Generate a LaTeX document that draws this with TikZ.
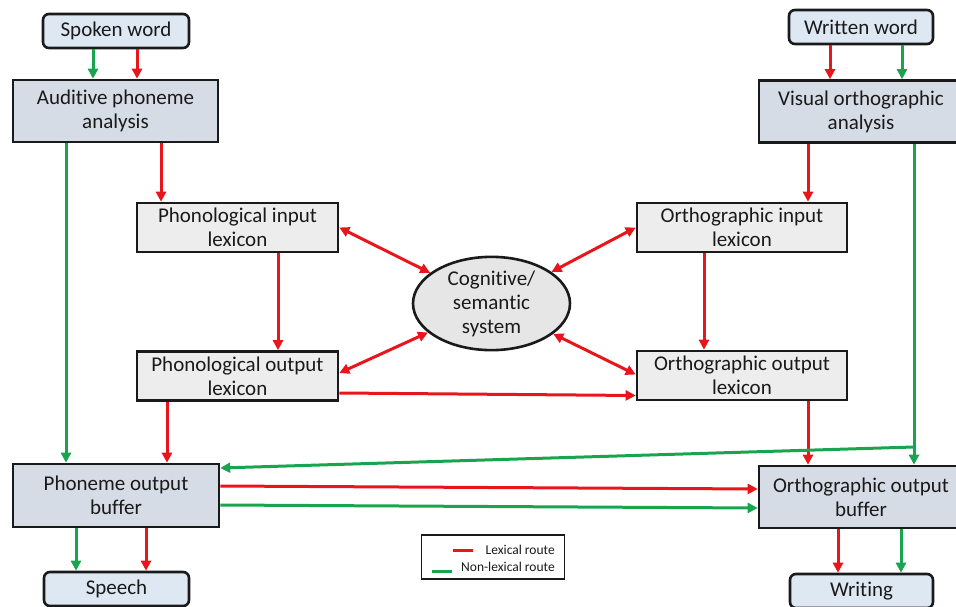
\documentclass[tikz,border=0pt]{standalone}
\usepackage{fontspec}
\setmainfont{Carlito}[Ligatures=NoCommon]
\usetikzlibrary{arrows.meta,shapes.geometric}

\definecolor{lexred}{HTML}{E8161C}
\definecolor{nlgreen}{HTML}{19A450}
\definecolor{iofill}{HTML}{DEE8F3}
\definecolor{stagefill}{HTML}{D6DCE5}
\definecolor{lexfill}{HTML}{EDEDED}
\definecolor{semfill}{HTML}{E6E6E6}
\definecolor{ink}{HTML}{1A1A1A}

\tikzset{
  >={Triangle[length=10pt,width=10pt]},
  box/.style={draw=ink, line width=2.6pt, inner sep=0pt, align=center,
              text=ink, font=\fontsize{21}{24}\selectfont},
  iobox/.style={box, rounded corners=6pt, fill=iofill},
  stagebox/.style={box, fill=stagefill},
  lexbox/.style={box, fill=lexfill},
  sembox/.style={box, ellipse, fill=semfill},
  lexarrow/.style={draw=lexred, line width=3pt, ->},
  nlarrow/.style={draw=nlgreen, line width=3pt, ->},
  lexline/.style={draw=lexred, line width=3pt},
  nlline/.style={draw=nlgreen, line width=3pt},
  biarrow/.style={draw=lexred, line width=3pt, <->},
  legendtext/.style={inner sep=0pt, anchor=east, text=ink,
                     font=\fontsize{13.5}{15}\selectfont},
}

\begin{document}
\begin{tikzpicture}[x=1pt, y=-1pt]
  \useasboundingbox (0,0) rectangle (956,607);

  % input and output words
  \node[iobox, minimum width=146pt, minimum height=34pt] (spoken)  at (116,31)    {Spoken word};
  \node[iobox, minimum width=144pt, minimum height=34pt] (written) at (861,27)    {Written word};
  \node[iobox, minimum width=145pt, minimum height=34pt] (speech)  at (116.5,589) {Speech};
  \node[iobox, minimum width=143pt, minimum height=34pt] (writing) at (861.5,591) {Writing};

  % analysis and buffer stages
  \node[stagebox, minimum width=205pt, minimum height=62pt] (aud)  at (115.5,111) {Auditive phoneme\\analysis};
  \node[stagebox, minimum width=204pt, minimum height=62pt] (vis)  at (861,111.5) {Visual orthographic\\analysis};
  \node[stagebox, minimum width=206pt, minimum height=63pt] (pbuf) at (116,495.5) {Phoneme output\\buffer};
  \node[stagebox, minimum width=204pt, minimum height=62pt] (obuf) at (861,497)   {Orthographic output\\buffer};

  % lexicons
  \node[lexbox, minimum width=201pt, minimum height=49pt] (pin)  at (237.5,227.5) {Phonological input\\lexicon};
  \node[lexbox, minimum width=210pt, minimum height=49pt] (oin)  at (742,227.5)   {Orthographic input\\lexicon};
  \node[lexbox, minimum width=201pt, minimum height=49pt] (pout) at (237.5,376)   {Phonological output\\lexicon};
  \node[lexbox, minimum width=210pt, minimum height=49pt] (oout) at (742,375.5)   {Orthographic output\\lexicon};

  % semantic system
  \node[sembox, minimum width=157pt, minimum height=93pt] (cog) at (491.5,303.5) {Cognitive/\\semantic\\system};

  % spoken word into auditive analysis
  \draw[nlarrow]  ([xshift=-23pt]spoken.south) -- ([xshift=-23pt]spoken.south |- aud.north);
  \draw[lexarrow] ([xshift=21pt]spoken.south)  -- ([xshift=21pt]spoken.south |- aud.north);

  % written word into visual analysis
  \draw[lexarrow] ([xshift=-31pt]written.south) -- ([xshift=-31pt]written.south |- vis.north);
  \draw[nlarrow]  ([xshift=41pt]written.south)  -- ([xshift=41pt]written.south |- vis.north);

  % lexical route, left side
  \draw[lexarrow] ([xshift=45.5pt]aud.south) -- ([xshift=45.5pt]aud.south |- pin.north);
  \draw[lexarrow] ([xshift=40.5pt]pin.south) -- ([xshift=40.5pt]pin.south |- pout.north);
  \draw[lexarrow] ([xshift=-70.5pt]pout.south) -- ([xshift=-70.5pt]pout.south |- pbuf.north);

  % lexical route, right side
  \draw[lexarrow] ([xshift=-53pt]vis.south) -- ([xshift=-53pt]vis.south |- oin.north);
  \draw[lexarrow] ([xshift=-38pt]oin.south) -- ([xshift=-38pt]oin.south |- oout.north);
  \draw[lexarrow] ([xshift=66pt]oout.south) -- ([xshift=66pt]oout.south |- obuf.north);

  % links with the semantic system
  \draw[biarrow] (pin.east)  -- (cog);
  \draw[biarrow] (oin.west)  -- (cog);
  \draw[biarrow] ([yshift=3pt]pout.east) -- (cog);
  \draw[biarrow] ([yshift=1pt]oout.west) -- (cog);

  % phonological to orthographic output lexicon
  \draw[lexarrow] ([yshift=-17pt]pout.east) -- ([yshift=-20pt]oout.west);

  % non-lexical route
  \draw[nlarrow] ([xshift=-49.5pt]aud.south) -- ([xshift=-49.5pt]aud.south |- pbuf.north);
  \draw[nlarrow] ([xshift=53pt]vis.south) -- ([xshift=53pt]vis.south |- obuf.north);
  \coordinate (split) at (914,447);
  \draw[nlarrow] (split) -- ([yshift=27.5pt]pbuf.east);

  % between the output buffers
  \draw[lexarrow] ([yshift=9.5pt]pbuf.east) -- ([yshift=8pt]obuf.west);
  \draw[nlarrow]  ([yshift=-9.5pt]pbuf.east) -- ([yshift=-11pt]obuf.west);

  % buffers to responses
  \draw[nlarrow]  ([xshift=-40pt]pbuf.south) -- ([xshift=-40pt]pbuf.south |- speech.north);
  \draw[lexarrow] ([xshift=30pt]pbuf.south)  -- ([xshift=30pt]pbuf.south |- speech.north);
  \draw[lexarrow] ([xshift=-23pt]obuf.south) -- ([xshift=-23pt]obuf.south |- writing.north);
  \draw[nlarrow]  ([xshift=40pt]obuf.south)  -- ([xshift=40pt]obuf.south |- writing.north);

  % key
  \node[draw=ink, line width=1.4pt, fill=white, minimum width=143pt, minimum height=44pt, inner sep=0pt]
    (key) at (493,557) {};
  \node[legendtext] (keylex) at (555,550) {Lexical route};
  \node[legendtext] (keynl)  at (555,567) {Non-lexical route};
  \draw[lexline] (453,550) -- (473,550);
  \draw[nlline]  (432,571) -- (452,571);
\end{tikzpicture}
\end{document}
